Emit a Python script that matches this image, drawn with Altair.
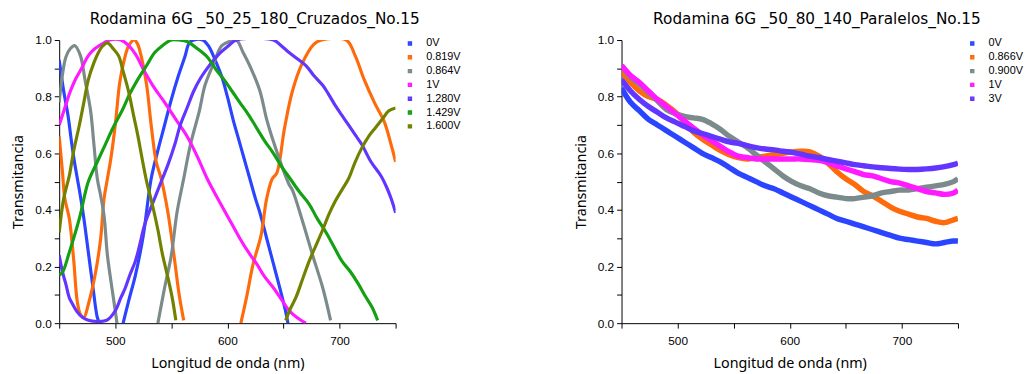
import altair as alt
import pandas as pd

# ---------------- Left panel: Cruzados ----------------
L_SERIES = ["0V", "0.819V", "0.864V", "1V", "1.280V", "1.429V", "1.600V"]
L_COLORS = ["#2a44ff", "#ff6a0a", "#7b8b8b", "#ff1aff", "#6236ff", "#13a013", "#728200"]

l_0v_nm = [450, 454, 458, 461, 464, 468, 472, 476, 480, 484, 486, 496, 507, 512, 518, 525, 532, 538, 544, 550, 556, 562, 566, 570, 578, 583, 589, 595, 600, 605, 610, 615, 620, 625, 629, 635, 641, 647, 652, 654]
l_0v_t = [0.93, 0.82, 0.73, 0.64, 0.56, 0.47, 0.37, 0.25, 0.13, 0.02, 0.0, None, 0.0, 0.08, 0.17, 0.31, 0.51, 0.61, 0.70, 0.79, 0.87, 0.94, 0.99, 1.0, 1.0, 0.98, 0.93, 0.87, 0.80, 0.72, 0.65, 0.58, 0.51, 0.44, 0.39, 0.30, 0.21, 0.12, 0.04, 0.0]

l_0819_nm = [450, 453, 455, 459, 463, 466, 469, 472, 476, 482, 487, 490, 493, 496, 500, 504, 508, 512, 517, 520, 523, 528, 532, 536.5, 541, 547, 553, 557, 561, 590, 612, 617, 623, 630, 635, 640, 644, 651, 658, 667, 677, 684, 706, 714, 722, 731, 740, 746, 750]
l_0819_t = [0.66, 0.53, 0.44, 0.37, 0.22, 0.08, 0.03, 0.02, 0.067, 0.17, 0.30, 0.44, 0.51, 0.58, 0.70, 0.85, 0.93, 0.98, 1.0, 0.985, 0.945, 0.84, 0.70, 0.57, 0.51, 0.39, 0.22, 0.10, 0.01, None, 0.0, 0.09, 0.21, 0.31, 0.44, 0.51, 0.53, 0.69, 0.82, 0.92, 0.985, 1.0, 1.0, 0.944, 0.86, 0.78, 0.71, 0.63, 0.57]

l_0864_nm = [450, 453, 456, 460, 464, 469, 473, 478, 481, 484, 487, 490, 493, 497, 500, 501.5, 520, 538, 544, 550, 555, 561, 567, 575, 580, 588, 595, 602, 608, 614, 621, 629, 635, 642, 649, 655, 658, 667, 676, 685, 692]
l_0864_t = [0.78, 0.88, 0.94, 0.97, 0.98, 0.944, 0.86, 0.75, 0.63, 0.51, 0.45, 0.38, 0.24, 0.125, 0.044, 0.0, None, 0.0, 0.125, 0.24, 0.39, 0.51, 0.63, 0.75, 0.84, 0.92, 0.98, 0.995, 1.0, 0.956, 0.90, 0.82, 0.72, 0.63, 0.55, 0.49, 0.47, 0.36, 0.24, 0.125, 0.01]

l_1v_nm = [450, 455, 460, 465, 470, 476, 482, 490, 495, 505, 512, 518, 526, 535, 544, 554, 564, 573, 582, 590, 597, 604, 611, 618, 626, 633, 641, 648, 655, 662, 670]
l_1v_t = [0.70, 0.76, 0.82, 0.865, 0.90, 0.945, 0.97, 0.99, 1.0, 1.0, 0.98, 0.95, 0.89, 0.83, 0.78, 0.72, 0.66, 0.59, 0.51, 0.45, 0.40, 0.35, 0.30, 0.255, 0.21, 0.165, 0.125, 0.085, 0.045, 0.02, 0.0]

l_1280_nm = [450, 453, 456, 459, 462, 466, 471, 476, 485, 493, 500, 505, 509, 513, 518, 522, 526, 531, 535, 542, 547, 553, 558, 564, 570, 576, 582, 588, 594, 601, 608, 641, 648, 655, 662, 670, 677, 685, 690, 696, 702, 708, 714, 720, 728, 737, 742, 746, 750]
l_1280_t = [0.24, 0.18, 0.137, 0.09, 0.067, 0.04, 0.02, 0.01, 0.006, 0.012, 0.044, 0.09, 0.125, 0.17, 0.22, 0.28, 0.345, 0.40, 0.44, 0.51, 0.56, 0.63, 0.70, 0.76, 0.82, 0.865, 0.90, 0.93, 0.956, 0.98, 1.0, 1.0, 0.98, 0.956, 0.935, 0.91, 0.875, 0.84, 0.81, 0.77, 0.735, 0.70, 0.665, 0.63, 0.57, 0.52, 0.48, 0.44, 0.39]

l_1429_nm = [450, 453, 459, 468, 476, 484, 491, 498, 506, 513, 520, 528, 535, 542, 550, 557, 564, 573, 582, 590, 597, 604, 611, 619, 626, 633, 641, 648, 656, 664, 673, 680, 688, 695, 702, 710, 717, 723, 729, 734]
l_1429_t = [0.17, 0.18, 0.25, 0.37, 0.50, 0.57, 0.63, 0.69, 0.75, 0.81, 0.86, 0.91, 0.955, 0.98, 1.0, 1.0, 0.995, 0.97, 0.94, 0.895, 0.86, 0.82, 0.78, 0.735, 0.69, 0.645, 0.60, 0.555, 0.51, 0.465, 0.42, 0.37, 0.32, 0.27, 0.22, 0.18, 0.137, 0.095, 0.056, 0.01]

l_1600_nm = [450, 454, 459, 463, 468, 472, 476, 481, 485, 489, 493, 498, 503, 507, 512, 516, 520, 524, 528, 533, 538, 542, 547, 551, 554, 600, 652, 656, 661, 667, 673, 679, 685, 690, 696, 702, 708, 714, 720, 726, 732, 738, 744, 750]
l_1600_t = [0.32, 0.44, 0.52, 0.61, 0.70, 0.78, 0.86, 0.92, 0.956, 0.98, 0.99, 0.97, 0.944, 0.89, 0.816, 0.74, 0.665, 0.58, 0.50, 0.42, 0.33, 0.245, 0.16, 0.085, 0.01, None, 0.01, 0.05, 0.09, 0.155, 0.22, 0.275, 0.33, 0.38, 0.43, 0.47, 0.51, 0.57, 0.62, 0.66, 0.69, 0.72, 0.75, 0.76]

# ---------------- Right panel: Paralelos ----------------
R_SERIES = ["0V", "0.866V", "0.900V", "1V", "3V"]
R_COLORS = ["#2a44ff", "#ff6a0a", "#7b8b8b", "#ff1aff", "#6236ff"]

r_nm = [450, 458, 466, 474, 482, 490, 498, 506, 514, 522, 530, 538, 546, 554, 562, 570, 578, 586, 594, 602, 610, 618, 626, 634, 642, 650, 658, 666, 674, 682, 690, 698, 706, 714, 722, 730, 738, 746, 750]
r_0v_t = [0.83, 0.78, 0.75, 0.72, 0.70, 0.68, 0.66, 0.64, 0.62, 0.60, 0.585, 0.57, 0.55, 0.53, 0.515, 0.50, 0.485, 0.475, 0.46, 0.445, 0.43, 0.415, 0.40, 0.385, 0.37, 0.36, 0.35, 0.34, 0.33, 0.32, 0.31, 0.30, 0.295, 0.29, 0.285, 0.28, 0.285, 0.29, 0.29]
r_0866_t = [0.89, 0.85, 0.82, 0.80, 0.79, 0.77, 0.745, 0.71, 0.675, 0.65, 0.63, 0.61, 0.595, 0.585, 0.58, 0.585, 0.59, 0.595, 0.60, 0.605, 0.607, 0.605, 0.59, 0.565, 0.535, 0.51, 0.49, 0.465, 0.45, 0.43, 0.41, 0.395, 0.385, 0.375, 0.37, 0.36, 0.355, 0.365, 0.37]
r_0900_t = [0.91, 0.87, 0.845, 0.815, 0.785, 0.755, 0.74, 0.73, 0.725, 0.72, 0.705, 0.685, 0.66, 0.64, 0.62, 0.595, 0.57, 0.545, 0.52, 0.50, 0.485, 0.475, 0.46, 0.45, 0.445, 0.44, 0.44, 0.445, 0.45, 0.46, 0.465, 0.47, 0.47, 0.475, 0.48, 0.485, 0.49, 0.50, 0.51]
r_1v_t = [0.91, 0.875, 0.85, 0.82, 0.79, 0.765, 0.74, 0.715, 0.69, 0.665, 0.645, 0.625, 0.605, 0.59, 0.585, 0.58, 0.58, 0.58, 0.58, 0.58, 0.58, 0.578, 0.575, 0.567, 0.555, 0.545, 0.535, 0.525, 0.52, 0.51, 0.50, 0.495, 0.485, 0.475, 0.465, 0.46, 0.455, 0.46, 0.47]
r_3v_t = [0.86, 0.82, 0.79, 0.765, 0.745, 0.725, 0.71, 0.695, 0.68, 0.67, 0.66, 0.65, 0.64, 0.635, 0.627, 0.62, 0.615, 0.612, 0.607, 0.603, 0.597, 0.59, 0.585, 0.578, 0.572, 0.566, 0.56, 0.556, 0.552, 0.549, 0.546, 0.544, 0.543, 0.543, 0.545, 0.548, 0.553, 0.56, 0.565]


def build(series_list):
    rows = []
    for name, xs, ys in series_list:
        seg = 0
        for x, y in zip(xs, ys):
            if y is None:
                seg += 1
                continue
            rows.append({"serie": name, "nm": x, "T": y, "seg": f"{name}-{seg}"})
    return pd.DataFrame(rows)


left_df = build([
    ("0V", l_0v_nm, l_0v_t),
    ("0.819V", l_0819_nm, l_0819_t),
    ("0.864V", l_0864_nm, l_0864_t),
    ("1V", l_1v_nm, l_1v_t),
    ("1.280V", l_1280_nm, l_1280_t),
    ("1.429V", l_1429_nm, l_1429_t),
    ("1.600V", l_1600_nm, l_1600_t),
])
right_df = build([
    ("0V", r_nm, r_0v_t),
    ("0.866V", r_nm, r_0866_t),
    ("0.900V", r_nm, r_0900_t),
    ("1V", r_nm, r_1v_t),
    ("3V", r_nm, r_3v_t),
])

TITLE_FONT = "DejaVu Sans"
AXIS_TITLE_FONT = "Noto Sans"
LABEL_FONT = "Liberation Sans"

x_axis = alt.Axis(
    values=[450, 500, 550, 600, 650, 700, 750],
    labelExpr="datum.value % 100 == 0 ? datum.label : ''",
    title="Longitud de onda (nm)", grid=False, tickSize=5, tickWidth=1,
    domainColor="black", tickColor="black", labelColor="black",
    labelFont=LABEL_FONT, labelFontSize=12, titleFont=AXIS_TITLE_FONT,
    titleFontSize=14.5, titleFontWeight="normal", titleColor="black",
    titlePadding=10, labelPadding=8,
)
y_axis = alt.Axis(
    values=[round(i * 0.1, 1) for i in range(11)],
    labelExpr="round(datum.value * 10) % 2 == 0 ? format(datum.value, '.1f') : ''",
    title="Transmitancia", grid=False, tickSize=5, tickWidth=1,
    domainColor="black", tickColor="black", labelColor="black",
    labelFont=LABEL_FONT, labelFontSize=12, titleFont=AXIS_TITLE_FONT,
    titleFontSize=14.5, titleFontWeight="normal", titleColor="black",
    titlePadding=9, labelPadding=3,
)


def panel(df, title, series, colors, width_px, dx):
    return alt.Chart(df, title=alt.TitleParams(
        title, font=TITLE_FONT, fontSize=15.5, fontWeight="normal",
        color="black", anchor="start", frame="group", dx=dx, offset=7,
    )).mark_line(strokeWidth=width_px, clip=True, interpolate="catmull-rom").encode(
        x=alt.X("nm:Q", scale=alt.Scale(domain=[450, 750], nice=False, zero=False), axis=x_axis),
        y=alt.Y("T:Q", scale=alt.Scale(domain=[0, 1], nice=False), axis=y_axis),
        color=alt.Color("serie:N", sort=series,
                        scale=alt.Scale(domain=series, range=colors),
                        legend=alt.Legend(
                            orient="none", legendX=350, legendY=-2, title=None,
                            symbolType="square", symbolSize=6, symbolStrokeWidth=2,
                            labelFont=LABEL_FONT, labelFontSize=11, labelColor="black",
                            rowPadding=2, labelOffset=11)),
        detail="seg:N",
    ).properties(width=341, height=287)


left = panel(left_df, "Rodamina 6G _50_25_180_Cruzados_No.15", L_SERIES, L_COLORS, 3.2, 31)
right = panel(right_df, "Rodamina 6G _50_80_140_Paralelos_No.15", R_SERIES, R_COLORS, 5.5, 32)

chart = alt.hconcat(left, right, spacing=229, bounds="flush").resolve_scale(
    color="independent").resolve_legend(color="independent").configure_view(
    stroke=None).properties(background="white", padding={"left": 11, "top": 9, "right": 5, "bottom": 5})

chart.save("out.html", embed_options={"renderer": "svg", "actions": False})
